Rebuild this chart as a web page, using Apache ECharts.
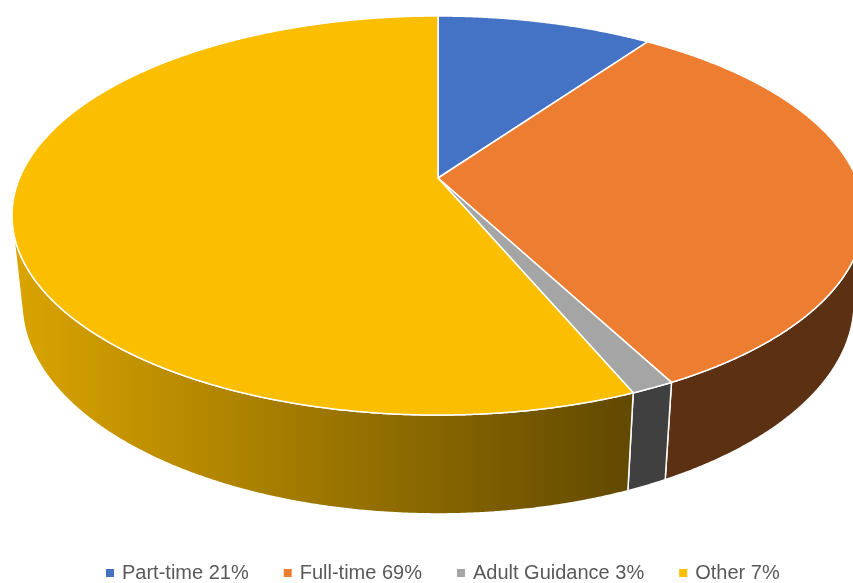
<!DOCTYPE html>
<html>
<head>
<meta charset="utf-8">
<script src="https://cdn.jsdelivr.net/npm/echarts@6/dist/echarts.min.js"></script>
<style>
html,body{margin:0;padding:0;background:#fff;}
#chart{width:853px;height:583px;}
</style>
</head>
<body>
<div id="chart"></div>
<script>
const categories = ['Part-time 21%', 'Full-time 69%', 'Adult Guidance 3%', 'Other 7%'];
const values = [9.8, 32.5, 1.4, 56.3];
const colors = ['#4472C4', '#ED7D31', '#A5A5A5', '#FCBE00'];

// cumulative boundaries (derived from values)
const total = values.reduce((a, b) => a + b, 0);
const bounds = [];
let acc = 0;
values.forEach(v => { bounds.push([acc, acc + v]); acc += v; });

// camera / projection settings (style)
const CX = 438, CY = 178, F = 1975.7, DIST = 4.722, SPHI = 0.46, CPHI = Math.sqrt(1 - SPHI * SPHI), THICK = 0.237;

function project(X, Y, Z) {
  const vx = X, vy = Y - DIST * SPHI, vz = Z + DIST * CPHI;
  const yc = vy * CPHI + vz * SPHI;
  const zc = -vy * SPHI + vz * CPHI;
  return [CX + F * vx / zc, CY - F * yc / zc];
}
function rim(theta, Y) { return project(Math.sin(theta), Y, Math.cos(theta)); }

function shade(hex, f) {
  const n = parseInt(hex.slice(1), 16);
  const r = Math.round(((n >> 16) & 255) * f), g = Math.round(((n >> 8) & 255) * f), b = Math.round((n & 255) * f);
  return 'rgb(' + r + ',' + g + ',' + b + ')';
}

const VIS_C = -1 / (DIST * CPHI); // wall visible where cos(theta) < VIS_C
const VIS_A = Math.acos(VIS_C), VIS_B = 2 * Math.PI - VIS_A;

function renderItem(params, api) {
  const a0 = api.value(0) / total * 2 * Math.PI;
  const a1 = api.value(1) / total * 2 * Math.PI;
  const color = colors[params.seriesIndex];
  const step = Math.PI / 720;
  const children = [];
  // wall
  const w0 = Math.max(a0, VIS_A), w1 = Math.min(a1, VIS_B);
  if (w1 > w0) {
    const pts = [];
    const n = Math.max(2, Math.ceil((w1 - w0) / step));
    for (let k = 0; k <= n; k++) pts.push(rim(w0 + (w1 - w0) * k / n, 0));
    for (let k = n; k >= 0; k--) pts.push(rim(w0 + (w1 - w0) * k / n, -THICK));
    children.push({
      type: 'polygon',
      shape: { points: pts },
      style: {
        fill: {
          type: 'linear', x: 20, y: 0, x2: 623, y2: 0, global: true,
          colorStops: [{ offset: 0, color: shade(color, 0.86) }, { offset: 1, color: shade(color, 0.39) }]
        },
        stroke: '#ffffff', lineWidth: 1.5, lineJoin: 'round'
      }
    });
  }
  // top
  const tp = [project(0, 0, 0)];
  const m = Math.max(2, Math.ceil((a1 - a0) / step));
  for (let k = 0; k <= m; k++) tp.push(rim(a0 + (a1 - a0) * k / m, 0));
  children.push({
    type: 'polygon',
    shape: { points: tp },
    style: { fill: color, stroke: '#ffffff', lineWidth: 1.5, lineJoin: 'round' }
  });
  return { type: 'group', children: children };
}

const chart = echarts.init(document.getElementById('chart'), null, { renderer: 'canvas' });
chart.setOption({
  animation: false,
  color: colors,
  legend: {
    data: categories,
    left: 101,
    top: 558,
    icon: 'rect',
    itemWidth: 8,
    itemHeight: 8,
    itemGap: 35,
    selectedMode: false,
    textStyle: { color: '#595959', fontFamily: 'Liberation Sans', fontSize: 20, padding: [0, 0, 0, 3] }
  },
  series: categories.map((name, i) => ({
    type: 'custom',
    name: name,
    coordinateSystem: 'none',
    silent: true,
    itemStyle: { color: colors[i] },
    data: [bounds[i]],
    renderItem: renderItem
  }))
});
</script>
</body>
</html>
